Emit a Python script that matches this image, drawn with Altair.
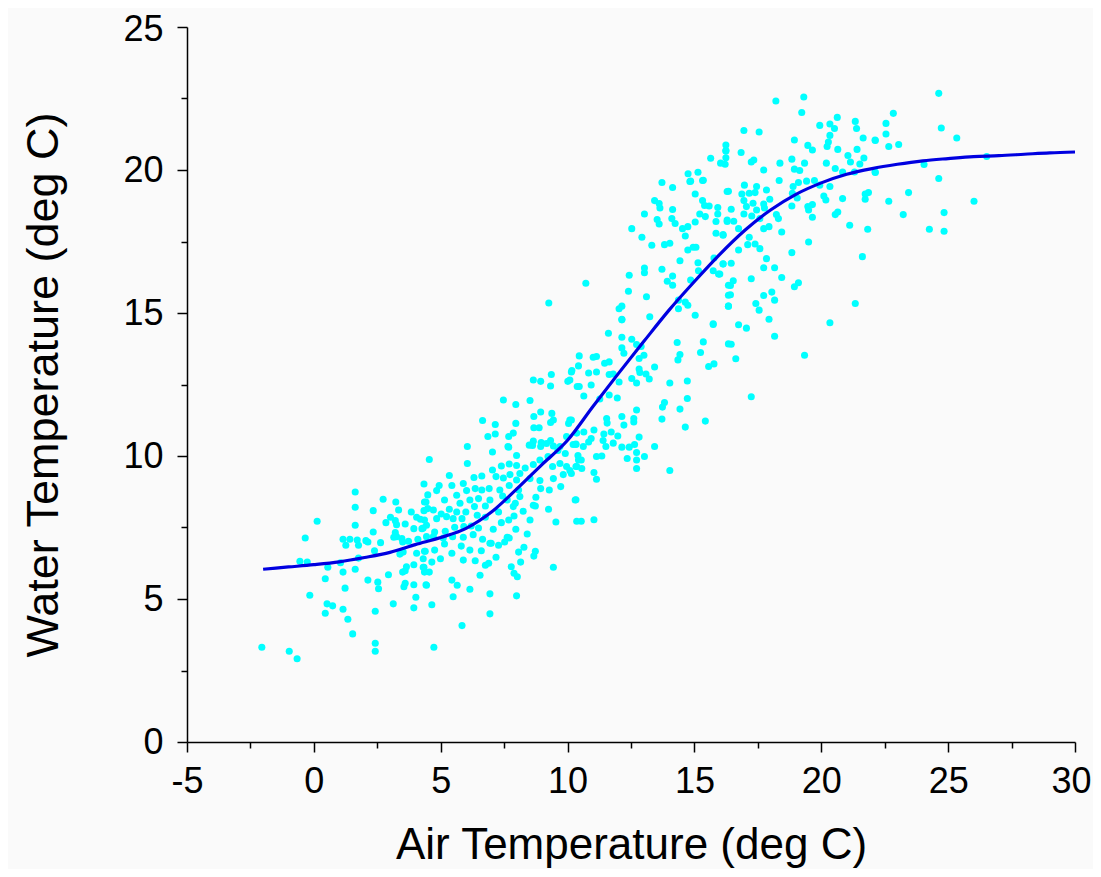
import altair as alt
import pandas as pd

# ---- observations (air temp, water temp), grouped by region of the cloud ----
obs_cold = [
    [4.34, 9.02], [1.63, 8.74], [2.73, 8.49], [3.23, 8.39], [1.63, 8.21], [2.34, 8.09], [3.34, 8.11], [3.84, 8.04],
    [4.49, 8.64], [4.36, 8.39], [4.49, 8.16], [0.13, 7.72], [1.63, 7.58], [2.84, 7.67], [3.02, 7.86], [3.21, 7.74],
    [3.26, 7.60], [3.60, 7.62], [4.05, 7.86], [4.20, 7.79], [4.44, 7.58], [3.94, 7.46], [4.26, 7.46], [2.34, 7.34],
    [-0.34, 7.13], [1.15, 7.09], [1.42, 7.09], [1.26, 6.88], [1.71, 7.06], [1.76, 6.88], [2.05, 7.04], [2.13, 6.99],
    [2.63, 6.97], [3.21, 7.32], [3.26, 7.18], [3.47, 7.11], [3.15, 7.16], [3.50, 6.99], [3.73, 7.02], [4.10, 7.09],
    [4.44, 7.18], [2.39, 6.69], [3.39, 6.57], [3.52, 6.64], [4.05, 6.60], [4.36, 6.67], [-0.55, 6.32], [-0.26, 6.29],
    [1.05, 6.27], [1.76, 6.43], [0.55, 6.11], [3.94, 6.20], [3.65, 6.13], [3.60, 5.99], [3.50, 5.94], [4.31, 6.11],
    [4.36, 5.94], [1.63, 6.04], [1.15, 5.94], [0.45, 5.71], [2.13, 5.66], [2.94, 5.85], [2.52, 5.59], [2.55, 5.36],
    [1.23, 5.38], [3.60, 5.55], [3.55, 5.43], [3.94, 5.50], [4.44, 5.48], [-0.16, 5.13], [4.02, 5.06], [0.52, 4.83],
    [0.74, 4.76], [1.15, 4.64], [3.13, 4.83], [3.94, 4.69], [2.42, 4.57], [0.45, 4.50], [1.34, 4.29], [1.53, 3.78],
    [-2.05, 3.31], [-0.97, 3.17], [-0.66, 2.91], [2.42, 3.45], [2.42, 3.17], [5.84, 4.07], [4.73, 3.31],
]

obs_cool = [
    [6.05, 10.33], [7.04, 10.14], [7.65, 10.33], [7.99, 10.02], [8.62, 10.37], [8.94, 10.33], [9.17, 10.44],
    [9.44, 10.35], [9.62, 10.19], [9.91, 10.09], [10.22, 10.40], [10.41, 10.02], [10.36, 9.63], [4.55, 9.88],
    [6.05, 9.74], [5.34, 9.32], [7.04, 9.51], [7.39, 9.65], [7.70, 9.72], [7.99, 9.67], [8.12, 9.39], [8.33, 9.58],
    [8.65, 9.70], [8.91, 9.86], [9.23, 9.98], [9.41, 9.63], [9.70, 9.74], [9.96, 9.63], [9.83, 9.35], [10.15, 9.39],
    [10.43, 9.86], [4.94, 8.97], [5.44, 8.97], [5.89, 9.04], [6.31, 9.25], [6.62, 9.30], [7.18, 9.28],
    [7.47, 9.23], [7.73, 9.35], [7.99, 9.16], [8.52, 9.21], [8.91, 9.14], [8.94, 8.86], [9.44, 9.21], [9.73, 8.93],
    [4.84, 8.79], [5.63, 8.63], [6.02, 8.79], [6.36, 8.86], [6.62, 8.81], [6.91, 8.86], [7.33, 8.81], [7.70, 8.97],
    [8.07, 8.81], [8.12, 8.58], [8.75, 8.56], [9.28, 8.81], [4.42, 8.39], [5.15, 8.46], [5.76, 8.35], [6.15, 8.46],
    [6.49, 8.51], [6.94, 8.46], [7.44, 8.60], [7.62, 8.46], [7.94, 8.35], [8.65, 8.28], [9.25, 8.14], [10.30, 8.46],
    [4.34, 8.09], [4.71, 8.11], [5.02, 7.97], [5.34, 8.14], [5.63, 8.04], [5.99, 8.04], [6.33, 8.23], [6.76, 8.25],
    [7.28, 8.04], [7.86, 8.23], [8.25, 8.07], [8.73, 8.25], [9.54, 7.69], [10.36, 7.72], [4.36, 7.76], [4.84, 7.81],
    [5.23, 7.88], [5.49, 7.81], [5.84, 7.81], [6.44, 7.93], [6.76, 7.86], [7.39, 7.67], [7.68, 7.76], [7.89, 7.90],
    [8.52, 7.76], [4.31, 7.48], [4.76, 7.34], [5.18, 7.37], [5.55, 7.51], [5.91, 7.53], [6.20, 7.55], [6.49, 7.48],
    [7.07, 7.44], [7.62, 7.16], [7.96, 7.44], [8.41, 7.27], [4.71, 7.18], [5.10, 7.13], [5.47, 7.18], [5.89, 7.16],
    [6.28, 7.25], [6.65, 7.09], [6.99, 6.95], [7.28, 6.88], [7.52, 6.99], [7.70, 7.13], [8.28, 6.81], [4.39, 6.67],
    [4.76, 6.71], [5.15, 6.92], [5.44, 6.60], [5.81, 6.85], [6.15, 6.71], [6.60, 6.69], [6.94, 6.95], [7.18, 6.46],
    [8.07, 6.64], [8.73, 6.67], [8.67, 6.50], [4.31, 6.41], [4.65, 6.29], [4.99, 6.41], [5.89, 6.36], [6.36, 6.34],
    [6.76, 6.18], [6.89, 6.25], [7.78, 6.13], [8.15, 6.29], [9.44, 6.11], [4.34, 6.11], [4.55, 5.94], [6.55, 5.83],
    [7.89, 5.90], [8.02, 5.78], [4.42, 5.50], [5.44, 5.66], [5.65, 5.48], [6.15, 5.34], [6.94, 5.18], [7.99, 5.11],
    [5.49, 5.08], [4.65, 4.80], [6.94, 4.48],
    [8.65, 12.66], [8.94, 12.61], [9.36, 12.85], [9.33, 12.45], [10.15, 12.94], [10.01, 12.61], [10.38, 12.43],
    [7.47, 11.96], [7.96, 11.80], [8.52, 11.94], [8.67, 11.38], [8.94, 11.54], [9.38, 11.49], [9.44, 11.26],
    [9.33, 11.17], [10.04, 11.14], [10.15, 11.26], [6.65, 11.24], [7.15, 11.10], [7.96, 11.14], [8.67, 10.99],
    [8.88, 10.99], [7.15, 10.77], [6.86, 10.68], [7.68, 10.68], [7.86, 10.80], [7.68, 10.31], [8.49, 10.38],
    [8.65, 10.52], [8.96, 10.47], [9.33, 10.54], [9.70, 10.33], [9.96, 10.68], [10.33, 10.42], [10.36, 10.80],
    [9.26, 15.35],
]

obs_mild = [
    [12.14, 14.76], [11.61, 14.29], [12.14, 14.15], [12.53, 14.08], [12.72, 13.90], [12.14, 13.78], [12.22, 13.59],
    [12.90, 13.83], [13.01, 13.52], [12.82, 13.41], [10.46, 13.50], [11.01, 13.45], [11.14, 13.48], [11.46, 13.24],
    [11.64, 13.29], [10.43, 13.15], [10.17, 12.99], [10.83, 12.90], [11.14, 12.94], [11.64, 12.85], [11.80, 12.87],
    [12.82, 13.04], [12.85, 12.92], [13.09, 12.87], [13.22, 12.69], [13.43, 13.11], [12.53, 12.71], [12.72, 12.55],
    [12.03, 12.59], [10.46, 12.43], [10.93, 12.48], [10.09, 12.66], [10.64, 12.10], [11.27, 11.99], [11.64, 12.13],
    [11.96, 12.03], [14.03, 12.55], [14.32, 13.97], [14.43, 13.55], [14.35, 13.36], [15.24, 13.62], [15.35, 13.99],
    [15.74, 14.60], [16.34, 13.92], [15.56, 13.13], [15.77, 13.22], [14.72, 12.62], [14.72, 12.01], [13.82, 11.87],
    [13.74, 11.71], [14.43, 11.64], [13.72, 11.29], [14.64, 11.01], [15.43, 11.22], [12.72, 11.61], [12.61, 11.31],
    [12.61, 11.19], [12.14, 11.38], [12.22, 11.08], [11.54, 11.31], [11.56, 11.15], [10.09, 11.26], [10.64, 10.84],
    [11.04, 10.91], [11.43, 10.77], [11.72, 10.84], [11.98, 10.70], [10.93, 10.61], [10.83, 10.49], [10.33, 10.40],
    [10.62, 10.33], [11.40, 10.54], [11.51, 10.33], [11.80, 10.45], [12.82, 10.66], [12.14, 10.31], [12.43, 10.31],
    [12.64, 10.40], [12.72, 10.12], [12.35, 9.91], [13.03, 9.98], [12.72, 9.86], [13.43, 10.33], [12.72, 9.56],
    [14.03, 9.49], [11.14, 9.98], [11.35, 10.00], [10.54, 9.86], [10.33, 9.63], [10.56, 9.56], [10.09, 9.49],
    [11.04, 9.42], [11.14, 9.19], [10.33, 8.47], [10.54, 7.72], [11.04, 7.77],
]

obs_warm = [
    [13.72, 19.56], [14.14, 19.39], [14.82, 19.60], [15.32, 19.63], [15.03, 19.16], [16.29, 19.25], [13.43, 18.93],
    [13.61, 18.83], [13.64, 18.67], [14.14, 18.62], [15.32, 18.93], [15.40, 18.76], [15.58, 18.74], [15.92, 18.69],
    [15.21, 18.46], [15.43, 18.37], [15.92, 18.46], [13.03, 18.46], [13.53, 18.27], [13.61, 18.11], [14.11, 18.30],
    [14.24, 18.13], [14.53, 17.95], [14.74, 18.02], [15.03, 18.18], [15.85, 18.20], [16.29, 18.20], [12.53, 17.95],
    [12.93, 17.65], [14.64, 17.69], [15.85, 17.79], [16.13, 17.74], [13.32, 17.37], [13.82, 17.39], [14.03, 17.44],
    [14.74, 17.20], [14.95, 17.30], [15.06, 17.30], [14.43, 16.83], [15.14, 16.76], [16.13, 16.71], [15.77, 16.92],
    [13.03, 16.57], [13.03, 16.41], [13.72, 16.53], [15.16, 16.48], [15.74, 16.48], [15.95, 16.36], [12.43, 16.32],
    [14.14, 16.29], [13.93, 16.11], [14.14, 15.97], [14.85, 16.15], [10.72, 16.04], [12.40, 15.76], [13.11, 15.57],
    [12.14, 15.24], [12.03, 15.15], [12.14, 14.78], [13.24, 14.87], [14.37, 15.45], [14.64, 15.38], [14.74, 15.27],
    [14.37, 15.15], [15.03, 14.92], [15.74, 14.62], [16.34, 15.97], [16.34, 15.62], [16.34, 15.24],
    [16.24, 20.87], [16.24, 20.66], [16.24, 20.43], [15.64, 20.41], [16.03, 20.24], [14.75, 19.87], [15.14, 19.92],
    [14.85, 19.61], [15.35, 19.64],
]

obs_hot = [
    [19.23, 22.01], [20.63, 21.84], [20.34, 21.61], [19.94, 21.56], [20.52, 21.45], [21.34, 21.70], [21.39, 21.45],
    [16.95, 21.38], [17.55, 21.33], [20.34, 21.21], [20.28, 20.98], [20.23, 20.82], [21.65, 21.12], [22.12, 21.05],
    [18.94, 21.05], [19.47, 20.86], [19.65, 20.70], [16.24, 20.68], [16.21, 20.20], [16.84, 20.61], [20.65, 20.72],
    [21.41, 20.72], [21.05, 20.51], [21.68, 20.42], [17.24, 20.28], [17.34, 20.35], [18.37, 20.24], [18.84, 20.38],
    [19.34, 20.24], [20.20, 20.24], [21.15, 20.28], [21.52, 20.21], [17.73, 20.00], [18.94, 20.03], [19.15, 19.98],
    [20.55, 20.05], [20.84, 19.93], [21.31, 19.93], [22.12, 19.93], [18.34, 19.63], [18.89, 19.42], [19.10, 19.56],
    [19.42, 19.61], [19.73, 19.63], [19.94, 19.47], [20.34, 19.42], [16.97, 19.47], [17.45, 19.42], [16.34, 19.26],
    [16.87, 19.16], [17.16, 19.19], [17.39, 19.21], [17.84, 19.30], [18.86, 19.19], [19.05, 19.02], [20.10, 19.09],
    [20.18, 18.95], [20.84, 19.00], [21.73, 19.16], [21.86, 19.21], [21.73, 18.98], [16.95, 18.93], [17.05, 18.72],
    [17.31, 18.84], [17.73, 18.81], [17.97, 18.98], [17.76, 18.67], [19.47, 18.72], [19.65, 18.79], [19.50, 18.60],
    [18.84, 18.74], [16.45, 18.63], [16.95, 18.46], [17.26, 18.39], [17.45, 18.60], [18.23, 18.44], [18.31, 18.30],
    [19.65, 18.35], [20.55, 18.44], [20.65, 18.53], [16.29, 18.25], [16.55, 18.21], [17.58, 18.30], [16.74, 17.95],
    [17.73, 17.95], [17.94, 18.02], [18.44, 17.83], [21.12, 18.07], [21.83, 17.93], [16.13, 17.72], [17.16, 17.65],
    [17.39, 17.41], [17.10, 17.39], [17.58, 17.25], [19.50, 17.48], [16.74, 17.20], [18.84, 17.11], [17.84, 16.90],
    [21.62, 16.97], [16.13, 16.72], [16.45, 16.74], [17.73, 16.58], [18.16, 16.58],
    [16.00, 16.36], [17.24, 16.20], [18.44, 16.24], [16.53, 16.13], [16.42, 15.96], [19.10, 16.06], [18.94, 15.92],
    [16.42, 15.64], [17.73, 15.61], [18.05, 15.73], [18.16, 15.45], [17.42, 15.33], [16.34, 15.24], [17.55, 15.10],
    [17.94, 14.78], [16.74, 14.59], [17.05, 14.47], [18.16, 14.19], [16.45, 13.91], [16.63, 13.40], [19.34, 13.52],
    [20.34, 14.66], [21.34, 15.33], [17.24, 12.07],
    [24.63, 22.68], [22.84, 21.98], [22.55, 21.63], [24.73, 21.47], [22.55, 21.26], [22.13, 21.03], [22.66, 20.82],
    [23.05, 20.89], [25.34, 21.12], [22.13, 19.91], [24.05, 20.19], [24.63, 19.70], [26.52, 20.47], [23.44, 19.21],
    [22.66, 18.91], [26.02, 18.91], [23.23, 18.44], [24.84, 18.51], [24.26, 17.93], [24.84, 17.86],
    [18.21, 22.41], [19.31, 22.55],
]

# ---- fitted curve ----
fit_air = [-2, -1, 0, 1, 2, 3, 4, 5, 6, 7, 8, 9, 10, 11, 12, 13, 14, 15, 16, 17,
           18, 19, 20, 21, 22, 23, 24, 25, 26, 27, 28, 29, 30]
fit_water = [6.04, 6.12, 6.20, 6.30, 6.45, 6.63, 6.90, 7.15, 7.47, 8.04, 8.85, 9.71, 10.55, 11.73, 12.88,
             14.0, 15.1, 16.1, 17.05, 17.9, 18.6, 19.15, 19.55, 19.85, 20.05, 20.2, 20.32, 20.4, 20.47,
             20.5, 20.55, 20.6, 20.63]

points = pd.DataFrame(obs_cold + obs_cool + obs_mild + obs_warm + obs_hot, columns=["air", "water"])
curve = pd.DataFrame({"air": fit_air, "water": fit_water})

x_ticks = [-5 + 2.5 * i for i in range(15)]
y_ticks = [2.5 * i for i in range(11)]

FONT = "Liberation Sans"

x_enc = alt.X(
    "air:Q",
    scale=alt.Scale(domain=[-5, 30], nice=False, zero=False),
    axis=alt.Axis(
        title="Air Temperature (deg C)",
        values=x_ticks,
        labelExpr="datum.value % 5 === 0 ? toString(datum.value) : ''",
        tickSize={"condition": {"test": "datum.value % 5 === 0", "value": 10}, "value": 6},
        labelOffset={"condition": {"test": "datum.value === 30", "value": -4}, "value": 0},
        grid=False,
        labelFlush=False,
        labelPadding=12,
        titlePadding=24,
        titleFontSize=44,
    ),
)
y_enc = alt.Y(
    "water:Q",
    scale=alt.Scale(domain=[0, 25], nice=False, zero=False),
    axis=alt.Axis(
        title="Water Temperature (deg C)",
        values=y_ticks,
        labelExpr="datum.value % 5 === 0 ? toString(datum.value) : ''",
        tickSize={"condition": {"test": "datum.value % 5 === 0", "value": 10}, "value": 6},
        labelOffset={"condition": {"test": "datum.value === 25", "value": 2}, "value": 0},
        grid=False,
        labelFlush=False,
        labelPadding=14,
        titlePadding=56,
        titleFontSize=45,
    ),
)

scatter = alt.Chart(points).mark_circle(size=50, opacity=1, color="#00FFFF").encode(x=x_enc, y=y_enc)
line = alt.Chart(curve).mark_line(color="#0000E0", strokeWidth=3.2, interpolate="monotone").encode(
    x="air:Q", y="water:Q"
)

chart = (
    alt.layer(scatter, line)
    .properties(
        width=888,
        height=715,
        autosize=alt.AutoSizeParams(type="none"),
        padding={"left": 179, "top": 19, "right": 18, "bottom": 127},
        background="#FAFAFA",
    )
    .configure_view(stroke=None)
    .configure_axis(
        domainColor="black",
        domainWidth=1.5,
        tickColor="black",
        tickWidth=1.5,
        labelFont=FONT,
        labelFontSize=36,
        labelColor="black",
        titleFont=FONT,
        titleFontWeight="normal",
        titleColor="black",
    )
)

chart.save("out.html", embed_options={"renderer": "svg", "actions": False})
